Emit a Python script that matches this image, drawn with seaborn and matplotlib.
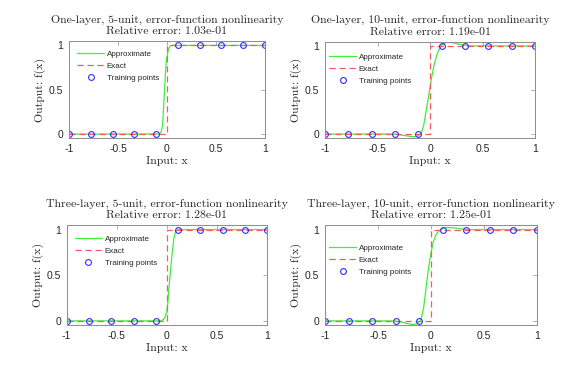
import matplotlib
matplotlib.use('Agg')
import matplotlib.pyplot as plt
import seaborn as sns
import pandas as pd

# training points (10 points on [-1, 1])
train_x = [-1.0, -0.778, -0.556, -0.333, -0.111, 0.111, 0.333, 0.556, 0.778, 1.0]
train_y = [0, 0, 0, 0, 0, 1, 1, 1, 1, 1]

# exact step function
exact_x = [-1.0, 0.0, 0.0, 1.0]
exact_y = [0, 0, 1, 1]

# approximations
approx1_x = [-1.0, -0.08, -0.06, -0.045, -0.035, -0.025, -0.015, -0.005, 0.01, 0.02, 0.035, 0.05, 1.0]
approx1_y = [0, 0, 0.02, 0.1, 0.3, 0.5, 0.7, 0.85, 0.93, 0.97, 0.995, 1, 1]

approx2_x = [-1.0, -0.36, -0.3, -0.25, -0.2, -0.15, -0.11, -0.08, -0.06, -0.04, -0.02, 0.0, 0.02, 0.04, 0.065, 0.09,
             0.12, 0.15, 0.18, 0.22, 0.27, 0.32, 0.4, 0.5, 1.0]
approx2_y = [0, 0, -0.005, -0.015, -0.025, -0.03, -0.02, 0.02, 0.1, 0.24, 0.38, 0.53, 0.67, 0.79, 0.9, 0.97,
             1.02, 1.037, 1.04, 1.035, 1.02, 1.01, 1.0, 1.0, 1.0]

approx3_x = [-1.0, -0.07, -0.05, -0.03, -0.015, 0.0, 0.01, 0.02, 0.035, 0.05, 0.07, 0.085, 0.1, 0.12, 1.0]
approx3_y = [0, 0, 0.005, 0.02, 0.05, 0.1, 0.2, 0.35, 0.53, 0.71, 0.9, 0.97, 0.995, 1, 1]

approx4_x = [-1.0, -0.4, -0.33, -0.27, -0.22, -0.17, -0.13, -0.1, -0.085, -0.07, -0.055, -0.04, -0.025, -0.01, 0.02,
             0.05, 0.08, 0.12, 0.16, 0.21, 0.27, 0.34, 0.45, 1.0]
approx4_y = [0, 0, -0.003, -0.015, -0.03, -0.04, -0.03, 0.0, 0.06, 0.14, 0.28, 0.43, 0.56, 0.68, 0.86,
             0.95, 0.99, 1.015, 1.022, 1.02, 1.01, 1.0, 1.0, 1.0]

titles = ['One-layer, 5-unit, error-function nonlinearity\nRelative error: 1.03e-01',
          'One-layer, 10-unit, error-function nonlinearity\nRelative error: 1.19e-01',
          'Three-layer, 5-unit, error-function nonlinearity\nRelative error: 1.28e-01',
          'Three-layer, 10-unit, error-function nonlinearity\nRelative error: 1.25e-01']
approx_x = [approx1_x, approx2_x, approx3_x, approx4_x]
approx_y = [approx1_y, approx2_y, approx3_y, approx4_y]

sns.set_theme(style='white')
plt.rcParams['font.family'] = ['Liberation Sans', 'DejaVu Sans']

W, H = 573, 367
fig = plt.figure(figsize=(W / 100, H / 100), dpi=100)

# axes boxes in pixels: left, top, right, bottom
boxes = [(69, 41, 265, 138), (325, 41.5, 535, 138), (66.7, 225, 267, 325), (325, 225, 537, 325)]
# legend offsets in pixels from axes top-left
leg_off = [(8, 9), (4, 12), (8, 10), (4, 19)]

gray = '#8c8c8c'
for i in range(4):
    l, t, r, b = boxes[i]
    ax = fig.add_axes([l / W, 1 - b / H, (r - l) / W, (b - t) / H])
    df_a = pd.DataFrame({'x': approx_x[i], 'y': approx_y[i]})
    sns.lineplot(data=df_a, x='x', y='y', ax=ax, color='#3cf03c', lw=0.9, sort=False,
                 estimator=None, label='Approximate')
    df_e = pd.DataFrame({'x': exact_x, 'y': exact_y})
    sns.lineplot(data=df_e, x='x', y='y', ax=ax, color='#ff5a5a', lw=0.9, sort=False,
                 estimator=None, label='Exact')
    ax.lines[-1].set_linestyle((0, (5, 3)))
    ax.plot(train_x, train_y, 'o', mfc='none', mec='#2f2fff', ms=4.2, mew=0.8,
            label='Training points')
    ax.set_xlim(-1, 1)
    ax.set_ylim(-0.045, 1.05)
    ax.set_xticks([-1, -0.5, 0, 0.5, 1])
    ax.set_xticklabels(['-1', '-0.5', '0', '0.5', '1'])
    ax.set_yticks([0, 0.5, 1])
    ax.set_yticklabels(['0', '0.5', '1'])
    ax.tick_params(direction='in', length=3, width=0.5, color=gray, top=True, right=True,
                   labelsize=7.5, labelcolor='#262626', pad=4)
    for s in ax.spines.values():
        s.set_color(gray)
        s.set_linewidth(0.7)
    ax.set_title(titles[i], family='cmr10', fontsize=8.5, pad=5, linespacing=1.25)
    ax.set_xlabel('Input: x', family='cmr10', fontsize=8.5, labelpad=2)
    ax.set_ylabel('Output: f(x)', family='cmr10', fontsize=8.5, labelpad=2)
    dx, dy = leg_off[i]
    ax.legend(loc='upper left', bbox_to_anchor=(dx / (r - l), 1 - dy / (b - t)), frameon=False,
              fontsize=5.8, handlelength=3.4, handletextpad=0.3, labelspacing=0.55,
              borderpad=0, borderaxespad=0)

fig.savefig('out.png', dpi=100)
